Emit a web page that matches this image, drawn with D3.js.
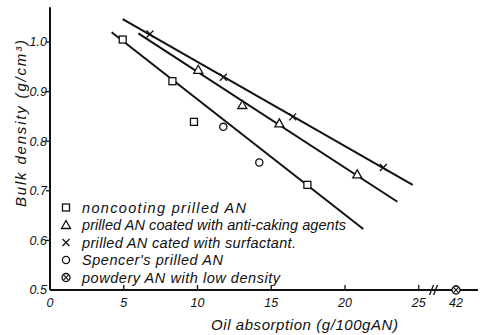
<!DOCTYPE html>
<html>
<head>
<meta charset="utf-8">
<script src="https://cdn.jsdelivr.net/npm/d3@7"></script>
<style>
  html, body { margin: 0; padding: 0; background: #fff; }
  svg { display: block; }
  text { font-family: "Liberation Sans", Arial, sans-serif; font-style: italic; fill: #111; }
</style>
</head>
<body>
<script>
// Bulk density of ammonium nitrate vs. oil absorption
const noncoating   = [[4.93, 1.005], [8.3, 0.921], [9.76, 0.839], [17.45, 0.712]];
const antiCaking   = [[10.05, 0.944], [13.04, 0.873], [15.55, 0.836], [20.83, 0.733]];
const surfactant   = [[6.78, 1.016], [11.75, 0.929], [16.45, 0.849], [22.6, 0.747]];
const spencer      = [[11.75, 0.829], [14.19, 0.757]];
const powdery      = [[42, 0.5]];

// fitted trend lines (start and end, data units)
const fitNoncoating = [[4.18, 1.0196], [21.24, 0.623]];
const fitAntiCaking = [[5.99, 1.0175], [23.55, 0.678]];
const fitSurfactant = [[4.93, 1.046], [24.59, 0.712]];

const xTicks = [0, 5, 10, 15, 20, 25, 42];
const yTicks = [0.5, 0.6, 0.7, 0.8, 0.9, 1.0];
const legendLabels = [
  "noncooting prilled AN",
  "prilled AN coated with anti-caking agents",
  "prilled AN cated with surfactant.",
  "Spencer's prilled AN",
  "powdery AN with low density"
];
const legendSymbols = ["square", "triangle", "cross", "circle", "otimes"];
// hand-lettered widths of the legend entries (px)
const legendWidths = [164, 264, 214, 141, 198];

const W = 481, H = 335;
const svg = d3.select("body").append("svg").attr("width", W).attr("height", H);

// broken x axis: linear 0..26, then a compressed segment holding 42
const x = d3.scaleLinear().domain([0, 26, 41, 44]).range([50, 433.5, 445, 478]);
const y = d3.scaleLinear().domain([0.5, 1.07]).range([290, 7.3]);

const ink = "#111";

// axes
svg.append("line").attr("x1", x(0)).attr("x2", x(0)).attr("y1", y(1.07)).attr("y2", y(0.5))
  .attr("stroke", ink).attr("stroke-width", 2);
svg.append("line").attr("x1", x(0)).attr("x2", x(44)).attr("y1", y(0.5)).attr("y2", y(0.5))
  .attr("stroke", ink).attr("stroke-width", 2);

// axis break marks
[-2, 2].forEach(dx => {
  svg.append("line")
    .attr("x1", x(26) + dx - 2).attr("x2", x(26) + dx + 2)
    .attr("y1", y(0.5) + 5).attr("y2", y(0.5) - 5)
    .attr("stroke", ink).attr("stroke-width", 1.3);
});

// y ticks and labels
yTicks.forEach(v => {
  if (v > 0.5) {
    svg.append("line").attr("x1", x(0) - 4).attr("x2", x(0)).attr("y1", y(v)).attr("y2", y(v))
      .attr("stroke", ink).attr("stroke-width", 1.3);
  }
  svg.append("text").attr("x", x(0) - 3).attr("y", y(v)).attr("dy", "0.35em")
    .attr("text-anchor", "end").attr("font-size", 12.5).text(v.toFixed(1));
});

// x ticks and labels
xTicks.forEach(v => {
  if (v > 0) {
    svg.append("line").attr("x1", x(v)).attr("x2", x(v)).attr("y1", y(0.5)).attr("y2", y(0.5) - 5)
      .attr("stroke", ink).attr("stroke-width", 1.3);
  }
  svg.append("text").attr("x", x(v)).attr("y", y(0.5) + 17)
    .attr("text-anchor", "middle").attr("font-size", 12.5).text(v);
});

// axis titles
svg.append("text").attr("x", 211).attr("y", 330)
  .attr("font-size", 15).attr("textLength", 187).attr("lengthAdjust", "spacing")
  .text("Oil absorption (g/100gAN)");
svg.append("text").attr("transform", `translate(26,207) rotate(-90)`)
  .attr("font-size", 15).attr("textLength", 167).attr("lengthAdjust", "spacing")
  .text("Bulk density (g/cm³)");

// trend lines
[fitNoncoating, fitAntiCaking, fitSurfactant].forEach(seg => {
  svg.append("line")
    .attr("x1", x(seg[0][0])).attr("y1", y(seg[0][1]))
    .attr("x2", x(seg[1][0])).attr("y2", y(seg[1][1]))
    .attr("stroke", ink).attr("stroke-width", 2);
});

// marker drawing
function marker(g, type, cx, cy) {
  const sw = 1.3;
  if (type === "square") {
    g.append("rect").attr("x", cx - 3.5).attr("y", cy - 3.5).attr("width", 7).attr("height", 7)
      .attr("fill", "#fff").attr("stroke", ink).attr("stroke-width", sw);
  } else if (type === "triangle") {
    g.append("path").attr("d", `M${cx},${cy - 4.5}L${cx + 4.5},${cy + 3.5}L${cx - 4.5},${cy + 3.5}Z`)
      .attr("fill", "#fff").attr("stroke", ink).attr("stroke-width", sw);
  } else if (type === "cross") {
    g.append("path").attr("d", `M${cx - 3.5},${cy - 3.5}L${cx + 3.5},${cy + 3.5}M${cx + 3.5},${cy - 3.5}L${cx - 3.5},${cy + 3.5}`)
      .attr("stroke", ink).attr("stroke-width", sw);
  } else if (type === "circle") {
    g.append("circle").attr("cx", cx).attr("cy", cy).attr("r", 3.6)
      .attr("fill", "#fff").attr("stroke", ink).attr("stroke-width", sw);
  } else if (type === "otimes") {
    g.append("circle").attr("cx", cx).attr("cy", cy).attr("r", 4)
      .attr("fill", "#fff").attr("stroke", ink).attr("stroke-width", sw);
    g.append("path").attr("d", `M${cx - 2.8},${cy - 2.8}L${cx + 2.8},${cy + 2.8}M${cx + 2.8},${cy - 2.8}L${cx - 2.8},${cy + 2.8}`)
      .attr("stroke", ink).attr("stroke-width", 1.1);
  }
}

const marks = svg.append("g");
[[noncoating, "square"], [antiCaking, "triangle"], [surfactant, "cross"],
 [spencer, "circle"], [powdery, "otimes"]].forEach(([data, type]) => {
  data.forEach(d => marker(marks, type, x(d[0]), y(d[1])));
});

// legend
const legend = svg.append("g");
legendLabels.forEach((label, i) => {
  const ly = 207.5 + i * 17.5;
  marker(legend, legendSymbols[i], 66, ly);
  legend.append("text").attr("x", 82).attr("y", ly).attr("dy", "0.35em")
    .attr("font-size", 14.5).attr("textLength", legendWidths[i]).attr("lengthAdjust", "spacing")
    .text(label);
});
</script>
</body>
</html>
